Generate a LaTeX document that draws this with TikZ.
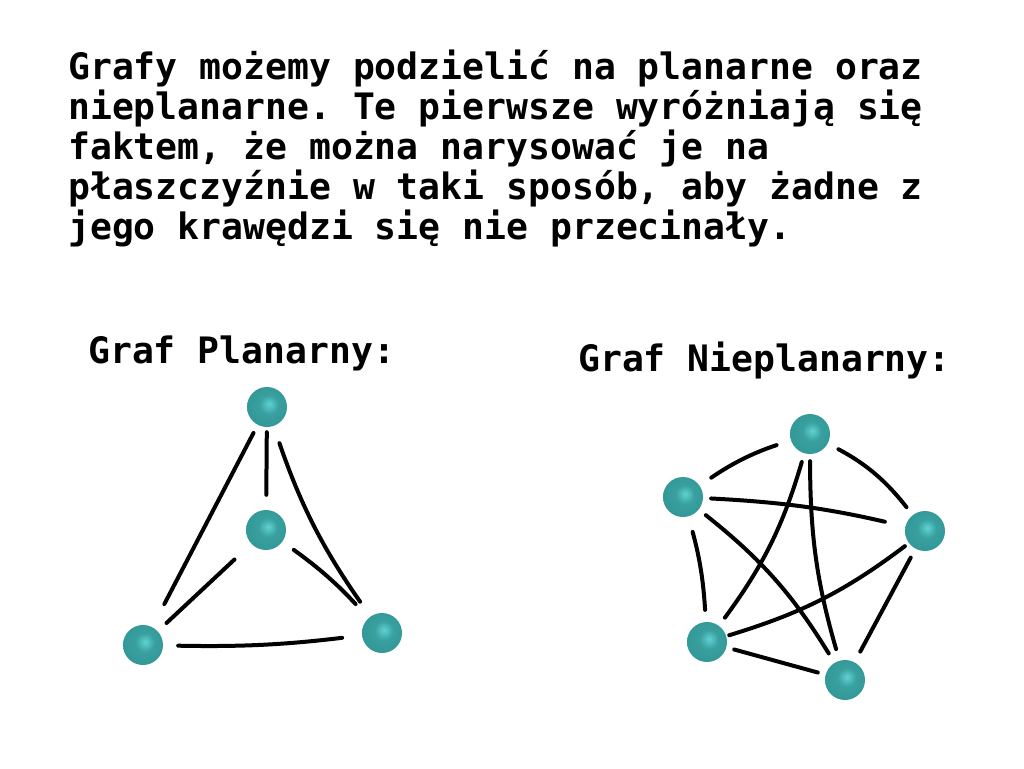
\documentclass[tikz,border=0pt]{standalone}
\usepackage{fontspec}
\setmonofont{DejaVu Sans Mono}
\usetikzlibrary{positioning}
\definecolor{ballhi}{RGB}{95,210,210}
\definecolor{ballmid}{RGB}{50,150,150}
\definecolor{balledge}{RGB}{25,85,90}
\pgfdeclareradialshading{tealball}{\pgfpoint{3bp}{4bp}}{color(0bp)=(ballhi); color(12bp)=(ballmid!85!ballhi); color(30bp)=(ballmid); color(46bp)=(balledge); color(50bp)=(balledge)}
\tikzset{%
	vertex/.style   = {circle, minimum size=40pt, inner sep=0pt, shading=tealball}, % Ball
	link/.style     = {line width=4pt, line cap=round, black}, % Edge
	gap/.style 2 args = {shorten <=#1pt, shorten >=#2pt},
	caption/.style  = {font=\ttfamily\bfseries\fontsize{36.4}{40}\selectfont, inner sep=0pt, anchor=base west},
}

\begin{document}
\begin{tikzpicture}[x=1pt, y=-1pt]
	\useasboundingbox[fill=white] (0,0) rectangle (1024,768);
	% base anchor sits on the last line
	\node[caption, align=left] (intro) at (68,239) {Grafy możemy podzielić na planarne oraz\\nieplanarne. Te pierwsze wyróżniają się\\faktem, że można narysować je na\\płaszczyźnie w taki sposób, aby żadne z\\jego krawędzi się nie przecinały.};
	\node[caption] (plabel) at (88,363) {Graf Planarny:};
	\node[caption] (nlabel) at (578,371) {Graf Nieplanarny:};

	% planar graph
	\node[vertex] (ptop) at (267,407) {};
	\node[vertex] (pmid) at (266,530) {};
	\node[vertex] (pleft) at (143,645) {};
	\node[vertex] (pright) at (382,633) {};
	\draw[link,gap={5}{15}] (ptop) -- (pmid);
	\draw[link,gap={9}{26}] (ptop) -- (pleft);
	\draw[link,gap={18}{18}] (ptop) to[bend right=8] (pright);
	\draw[link,gap={23}{12}] (pmid) -- (pleft);
	\draw[link,gap={14}{19}] (pmid) to[bend left=6] (pright);
	\draw[link,gap={15}{20}] (pleft) to[bend right=4] (pright);

	% non-planar graph
	\begin{scope}
		\node[vertex] (ntop) at (810,434) {};
		\node[vertex] (nleft) at (683,497) {};
		\node[vertex] (nright) at (925,531) {};
		\node[vertex] (nlow) at (707,642) {};
		\node[vertex] (nbot) at (845,680) {};
		\draw[link,gap={15}{14}] (ntop) to[bend right=8] (nleft);
		\draw[link,gap={12}{10}] (ntop) to[bend left=12] (nright);
		\draw[link,gap={9}{10}] (ntop) to[bend left=10] (nlow);
		\draw[link,gap={7}{12}] (ntop) to[bend right=8] (nbot);
		\draw[link,gap={8}{21}] (nleft) to[bend left=5] (nright);
		\draw[link,gap={9}{11}] (nleft) to[bend left=10] (nbot);
		\draw[link,gap={16}{12}] (nleft) to[bend left=6] (nlow);
		\draw[link,gap={5}{3}] (nright) to[bend left=10] (nlow);
		\draw[link,gap={10}{12}] (nright) -- (nbot);
		\draw[link,gap={8}{8}] (nlow) -- (nbot);
	\end{scope}
\end{tikzpicture}
\end{document}
